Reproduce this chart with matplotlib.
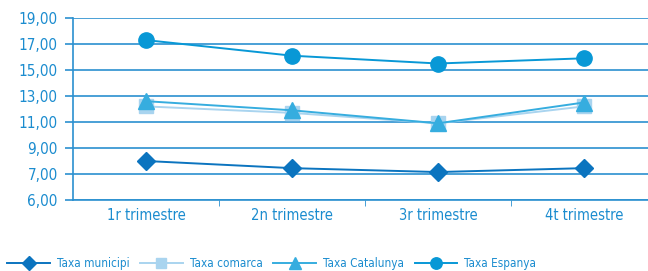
import matplotlib
matplotlib.use("Agg")
from matplotlib import pyplot as plt

plt.rcParams['font.family'] = ['DejaVu Sans']
plt.rcParams['font.stretch'] = 'condensed'

trimestres = ["1r trimestre", "2n trimestre", "3r trimestre", "4t trimestre"]
municipi = [8.0, 7.45, 7.15, 7.45]
comarca = [12.2, 11.7, 10.9, 12.2]
catalunya = [12.6, 11.9, 10.9, 12.5]
espanya = [17.3, 16.1, 15.5, 15.9]

ytick_vals = [5, 7, 9, 11, 13, 15, 17, 19]
ytick_labels = ["6,00", "7,00", "9,00", "11,00", "13,00", "15,00", "17,00", "19,00"]

txt = '#1b8ccf'
grid = '#2b90d0'

fig = plt.figure(figsize=(6.48, 2.71), dpi=100)
ax = fig.add_axes([73 / 648, 1 - 200 / 271, (657 - 73) / 648, (200 - 18) / 271])

x = range(len(trimestres))
ax.plot(x, municipi, color='#0b74bf', marker='D', markersize=9.5, lw=1.4, label='Taxa municipi')
ax.plot(x, comarca, color='#a9d4ef', marker='s', markersize=10, lw=1.4, label='Taxa comarca')
ax.plot(x, catalunya, color='#36addf', marker='^', markersize=11, lw=1.4, label='Taxa Catalunya')
ax.plot(x, espanya, color='#0898d6', marker='o', markersize=11, lw=1.4, label='Taxa Espanya')

ax.set_xlim(-0.5, 3.5)
ax.set_ylim(5, 19)
ax.set_yticks(ytick_vals)
ax.set_yticklabels(ytick_labels)
ax.set_xticks(list(x))
ax.set_xticklabels(trimestres)
ax.set_xticks([0.5, 1.5, 2.5], minor=True)
ax.tick_params(axis='x', which='major', length=0, pad=6, labelsize=10.5, labelcolor=txt)
ax.tick_params(axis='x', which='minor', length=4, color=grid)
ax.tick_params(axis='y', length=6, color=grid, width=1.2, labelsize=11, labelcolor=txt, pad=5)
ax.grid(axis='y', color=grid, lw=1.2)
ax.set_axisbelow(True)
for s in ['top', 'right']:
    ax.spines[s].set_visible(False)
for s in ['left', 'bottom']:
    ax.spines[s].set_color(grid)
    ax.spines[s].set_linewidth(1.2)

leg = fig.legend(loc='lower left', bbox_to_anchor=(-0.005, -0.035), ncol=4, frameon=False,
                 fontsize=8.5, handlelength=3.6, columnspacing=0.9, handletextpad=0.6,
                 markerscale=0.75)
for t in leg.get_texts():
    t.set_color(txt)

fig.savefig('out.png', dpi=100)
